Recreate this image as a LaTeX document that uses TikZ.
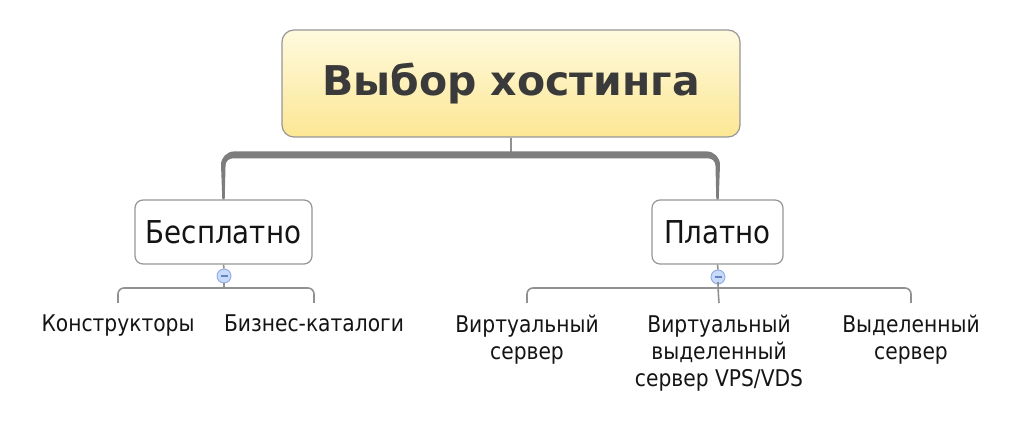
\documentclass[tikz,border=0pt]{standalone}
\usepackage{fontspec}
\setmainfont{DejaVu Sans}[FakeStretch=0.88]
\newfontfamily\titlefont{DejaVu Sans}
\definecolor{paleyellow}{RGB}{255, 250, 222}
\definecolor{deepyellow}{RGB}{252, 231, 148}
\definecolor{boxgray}{RGB}{150, 150, 150}
\definecolor{bargray}{RGB}{125, 125, 125}
\definecolor{linegray}{RGB}{145, 145, 145}
\definecolor{titlegray}{RGB}{58, 58, 58}
\definecolor{textblack}{RGB}{20, 20, 20}
\definecolor{dotblue}{RGB}{200, 218, 250}
\definecolor{dotedge}{RGB}{140, 172, 228}
\definecolor{minusblue}{RGB}{100, 130, 190}
\usetikzlibrary{calc}

\begin{document}
\begin{tikzpicture}[x=1pt, y=1pt,
  branch/.style={draw=boxgray, line width=1.2pt, fill=white, rounded corners=8pt,
    minimum height=64pt, text=textblack, font=\fontsize{31.5}{36}\selectfont},
  leaf/.style={anchor=north, align=center, inner xsep=0pt, inner ysep=12pt,
    text=textblack, font=\fontsize{23}{27}\selectfont},
  link/.style={draw=linegray, line width=1.6pt, rounded corners=6pt},
  fold/.style={circle, draw=dotedge, fill=dotblue, minimum size=14pt, inner sep=0pt,
    line width=0.9pt, path picture={\draw[minusblue, line width=1.2pt]
      ([xshift=-3.5pt]path picture bounding box.center) --
      ([xshift=3.5pt]path picture bounding box.center);}}]
  \useasboundingbox (0, 0) rectangle (1024, 430);

  \node[draw=boxgray, line width=1.2pt, rounded corners=12pt, top color=paleyellow,
    bottom color=deepyellow, minimum width=458pt, minimum height=107pt, text=titlegray,
    font=\titlefont\bfseries\fontsize{41}{49}\selectfont] (root) at (511, 346.5) {Выбор хостинга};

  \node[branch, minimum width=177pt] (free) at (223.5, 198) {Бесплатно};
  \node[branch, minimum width=131pt] (paid) at (717.5, 198) {Платно};

  \coordinate (rootfork) at (511, 275);
  \draw[line width=1.5pt, linegray] (root.south) -- (rootfork);
  \fill[bargray] ($(free.north)+(-1.2, 0)$) [rounded corners=14pt]
    -- ($(free.north)+(-3, 48)$) -- ($(paid.north)+(3, 48)$) [sharp corners]
    -- ($(paid.north)+(1.2, 0)$) -- ($(paid.north)+(-1.2, 0)$) [rounded corners=7pt]
    -- ($(paid.north)+(-2.2, 41)$) -- ($(free.north)+(2.2, 41)$) [sharp corners]
    -- ($(free.north)+(1.2, 0)$) -- cycle;

  \node[fold] (freefold) at (224, 154) {};
  \node[fold] (paidfold) at (718, 153) {};

  \node[leaf] (ctor) at (118, 127) {Конструкторы};
  \node[leaf] (catalog) at (314, 127) {Бизнес-каталоги};
  \node[leaf] (vserver) at (527, 127) {Виртуальный\\сервер};
  \node[leaf] (vps) at (719, 127) {Виртуальный\\выделенный\\сервер VPS/VDS};
  \node[leaf] (dedicated) at (911, 127) {Выделенный\\сервер};

  % free hosting
  \coordinate (freefork) at (224, 142);
  \draw[link] (free.south) -- (freefold.north);
  \draw[link] (freefold.south) -- (freefork);
  \draw[link] (ctor.north) |- (freefork) -| (catalog.north);

  % paid hosting
  \coordinate (paidfork) at (718, 142);
  \draw[link] (paid.south) -- (paidfold.north);
  \draw[link] (paidfold.south) -- (paidfork) -- (vps.north);
  \draw[link] (vserver.north) |- (paidfork) -| (dedicated.north);
\end{tikzpicture}
\end{document}
